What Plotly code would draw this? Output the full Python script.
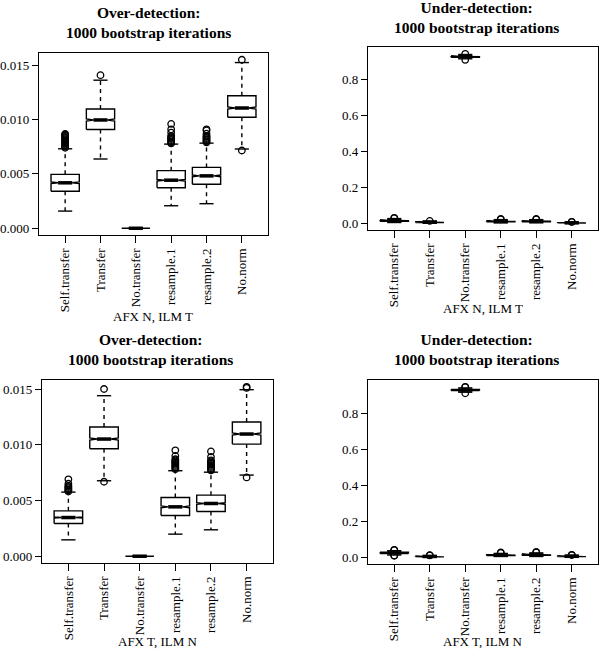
import numpy as np
import plotly.graph_objects as go

# ---------------- data ----------------
categories = ["Self.transfer", "Transfer", "No.transfer", "resample.1", "resample.2", "No.norm"]
n_boot = 1000

# Top-left: Over-detection, AFX N, ILM T
tl_q1 = [0.00341, 0.00908, 0.0, 0.00372, 0.00405, 0.01021]
tl_med = [0.00418, 0.00996, 0.0, 0.00442, 0.00482, 0.01106]
tl_q3 = [0.00496, 0.01097, 0.0, 0.00530, 0.00560, 0.01219]
tl_lo = [0.00158, 0.00637, 0.0, 0.00207, 0.00226, 0.00729]
tl_hi = [0.00731, 0.01362, 0.0, 0.00774, 0.00783, 0.01524]
tl_out = [
    [0.0074, 0.0075, 0.0076, 0.0077, 0.0078, 0.0079, 0.0080, 0.0081, 0.0082, 0.0083, 0.0084, 0.0085, 0.0086, 0.00868],
    [0.01408],
    [],
    [0.0078, 0.0079, 0.0080, 0.0081, 0.0082, 0.0083, 0.0084, 0.0085, 0.0088, 0.0091, 0.0096],
    [0.0079, 0.0080, 0.0081, 0.0082, 0.0083, 0.0084, 0.0085, 0.0087, 0.0090, 0.0091],
    [0.0155, 0.00715],
]

# Top-right: Under-detection, AFX N, ILM T
tr_q1 = [0.011, 0.004, 0.927, 0.008, 0.008, 0.001]
tr_med = [0.014, 0.006, 0.930, 0.010, 0.011, 0.002]
tr_q3 = [0.017, 0.008, 0.933, 0.013, 0.013, 0.003]
tr_lo = [0.004, 0.0005, 0.918, 0.002, 0.002, 0.0]
tr_hi = [0.026, 0.012, 0.942, 0.020, 0.020, 0.006]
tr_out = [
    [0.028, 0.030],
    [0.013],
    [0.946, 0.912],
    [0.022, 0.024],
    [0.022, 0.024],
    [0.007, 0.008],
]

# Bottom-left: Over-detection, AFX T, ILM N
bl_q1 = [0.00293, 0.00964, 0.0, 0.00365, 0.00401, 0.01006]
bl_med = [0.00347, 0.01051, 0.0, 0.00443, 0.00473, 0.01096]
bl_q3 = [0.00407, 0.01159, 0.0, 0.00527, 0.00548, 0.01204]
bl_lo = [0.00147, 0.00677, 0.0, 0.00198, 0.00237, 0.00728]
bl_hi = [0.00575, 0.01440, 0.0, 0.00767, 0.00754, 0.01494]
bl_out = [
    [0.0058, 0.0059, 0.0060, 0.0061, 0.0062, 0.0063, 0.0065, 0.0069],
    [0.0150, 0.00668],
    [],
    [0.0078, 0.0079, 0.0080, 0.0081, 0.0082, 0.0083, 0.0084, 0.0085, 0.0086, 0.0087, 0.0090, 0.0095],
    [0.0077, 0.0078, 0.0079, 0.0080, 0.0081, 0.0082, 0.0083, 0.0084, 0.0085, 0.0086, 0.0089, 0.0094],
    [0.0151, 0.0152, 0.00707],
]

# Bottom-right: Under-detection, AFX T, ILM N
br_q1 = [0.020, 0.002, 0.927, 0.009, 0.010, 0.003]
br_med = [0.024, 0.004, 0.930, 0.012, 0.013, 0.005]
br_q3 = [0.028, 0.005, 0.934, 0.014, 0.016, 0.007]
br_lo = [0.012, 0.0, 0.918, 0.004, 0.004, 0.0]
br_hi = [0.036, 0.009, 0.942, 0.021, 0.024, 0.011]
br_out = [
    [0.039, 0.041, 0.010, 0.008],
    [0.010, 0.011],
    [0.946, 0.948, 0.912],
    [0.024, 0.026],
    [0.027, 0.029],
    [0.012, 0.013],
]

over_ticks = [0.0, 0.005, 0.010, 0.015]
under_ticks = [0.0, 0.2, 0.4, 0.6, 0.8]

title_over = "Over-detection:<br>1000 bootstrap iterations"
title_under = "Under-detection:<br>1000 bootstrap iterations"
label_top = "AFX N, ILM T"
label_bottom = "AFX T, ILM N"

# ---------------- layout helpers ----------------
W, H = 600, 650
FONT = "Liberation Serif, 'Times New Roman', Times, serif"


def px(x):
    return x / W


def py(y):
    return 1 - y / H


panels = [
    dict(stats=(tl_q1, tl_med, tl_q3, tl_lo, tl_hi, tl_out), ticks=over_ticks, fmt=".3f",
         xdom=(39, 268), ydom=(53, 235), title=title_over, tpos=(148, 23),
         xlabel=label_top, lpos=(153, 316)),
    dict(stats=(tr_q1, tr_med, tr_q3, tr_lo, tr_hi, tr_out), ticks=under_ticks, fmt=".1f",
         xdom=(368, 598), ydom=(47, 230), title=title_under, tpos=(476, 17),
         xlabel=label_top, lpos=(483, 308)),
    dict(stats=(bl_q1, bl_med, bl_q3, bl_lo, bl_hi, bl_out), ticks=over_ticks, fmt=".3f",
         xdom=(42, 273), ydom=(380, 563), title=title_over, tpos=(150, 349),
         xlabel=label_bottom, lpos=(158, 641)),
    dict(stats=(br_q1, br_med, br_q3, br_lo, br_hi, br_out), ticks=under_ticks, fmt=".1f",
         xdom=(368, 598), ydom=(380, 564), title=title_under, tpos=(476, 349),
         xlabel=label_bottom, lpos=(483, 641)),
]

fig = go.Figure()
layout = dict(
    width=W, height=H, margin=dict(l=0, r=0, t=0, b=0, autoexpand=False),
    paper_bgcolor="white", plot_bgcolor="white", showlegend=False,
    font=dict(family=FONT, color="black"),
    template="none",
)
annotations = []

W_BOX = 0.4     # half box width (boxwex 0.8)
W_NOTCH = 0.2   # half width at the notch / median
W_STAPLE = 0.2  # half staple width

for k, p in enumerate(panels, start=1):
    xa = "x" if k == 1 else f"x{k}"
    ya = "y" if k == 1 else f"y{k}"
    q1, med, q3, lo, hi, outl = p["stats"]

    bx, by, wx, wy, sx, sy, mx, my, ox, oy = [], [], [], [], [], [], [], [], [], []
    for i in range(len(categories)):
        nh = 1.58 * (q3[i] - q1[i]) / np.sqrt(n_boot)
        nlo, nhi = med[i] - nh, med[i] + nh
        bx += [i - W_BOX, i - W_BOX, i - W_NOTCH, i - W_BOX, i - W_BOX,
               i + W_BOX, i + W_BOX, i + W_NOTCH, i + W_BOX, i + W_BOX, i - W_BOX, None]
        by += [q1[i], nlo, med[i], nhi, q3[i], q3[i], nhi, med[i], nlo, q1[i], q1[i], None]
        wx += [i, i, None, i, i, None]
        wy += [q3[i], hi[i], None, q1[i], lo[i], None]
        sx += [i - W_STAPLE, i + W_STAPLE, None, i - W_STAPLE, i + W_STAPLE, None]
        sy += [hi[i], hi[i], None, lo[i], lo[i], None]
        mx += [i - W_NOTCH, i + W_NOTCH, None]
        my += [med[i], med[i], None]
        ox += [i] * len(outl[i])
        oy += list(outl[i])

    fig.add_trace(go.Scatter(x=wx, y=wy, mode="lines", xaxis=xa, yaxis=ya,
                             line=dict(color="black", width=1.4, dash="4px,4px"), hoverinfo="skip"))
    fig.add_trace(go.Scatter(x=sx, y=sy, mode="lines", xaxis=xa, yaxis=ya,
                             line=dict(color="black", width=1.4), hoverinfo="skip"))
    fig.add_trace(go.Scatter(x=bx, y=by, mode="lines", xaxis=xa, yaxis=ya,
                             line=dict(color="black", width=1.4), hoverinfo="skip"))
    fig.add_trace(go.Scatter(x=mx, y=my, mode="lines", xaxis=xa, yaxis=ya,
                             line=dict(color="black", width=3.5), hoverinfo="skip"))
    fig.add_trace(go.Scatter(x=ox, y=oy, mode="markers", xaxis=xa, yaxis=ya,
                             marker=dict(symbol="circle-open", size=6.5, color="black",
                                         line=dict(width=1.3, color="black")),
                             hoverinfo="skip"))

    allv = [v for arr in (q1, med, q3, lo, hi) for v in arr] + oy
    vmin, vmax = min(allv), max(allv)
    pad = 0.04 * (vmax - vmin)
    n = len(categories)
    xpad = 0.04 * n

    xkey = "xaxis" if k == 1 else f"xaxis{k}"
    ykey = "yaxis" if k == 1 else f"yaxis{k}"
    layout[xkey] = dict(
        domain=[px(p["xdom"][0]), px(p["xdom"][1])], anchor=ya, automargin=False,
        range=[-0.5 - xpad, n - 0.5 + xpad],
        tickmode="array", tickvals=list(range(n)), ticktext=categories,
        tickangle=-90, ticks="outside", ticklen=7, tickwidth=1.2, tickcolor="black",
        tickfont=dict(family=FONT, size=13, color="black"),
        showline=True, mirror=True, linecolor="black", linewidth=1.4,
        showgrid=False, zeroline=False, fixedrange=True,
    )
    layout[ykey] = dict(
        domain=[py(p["ydom"][1]), py(p["ydom"][0])], anchor=xa, automargin=False,
        range=[vmin - pad, vmax + pad],
        tickmode="array", tickvals=p["ticks"], tickformat=p["fmt"],
        ticks="outside", ticklen=6, tickwidth=1.2, tickcolor="black",
        tickfont=dict(family=FONT, size=13, color="black"),
        showline=True, mirror=True, linecolor="black", linewidth=1.4,
        showgrid=False, zeroline=False, fixedrange=True,
    )
    annotations.append(dict(
        text="<b>" + p["title"].replace("<br>", "</b><br><b>") + "</b>",
        x=px(p["tpos"][0]), y=py(p["tpos"][1]), xref="paper", yref="paper",
        xanchor="center", yanchor="middle", showarrow=False,
        font=dict(family=FONT, size=15.5, color="black"),
    ))
    annotations.append(dict(
        text=p["xlabel"], x=px(p["lpos"][0]), y=py(p["lpos"][1]), xref="paper", yref="paper",
        xanchor="center", yanchor="middle", showarrow=False,
        font=dict(family=FONT, size=13, color="black"),
    ))

layout["annotations"] = annotations
fig.update_layout(**layout)
# remove the default 8px page margin so the 600x650 figure fills the window exactly
fig.write_html("out.html", config={"displayModeBar": False},
               post_script="document.body.style.margin='0';")
